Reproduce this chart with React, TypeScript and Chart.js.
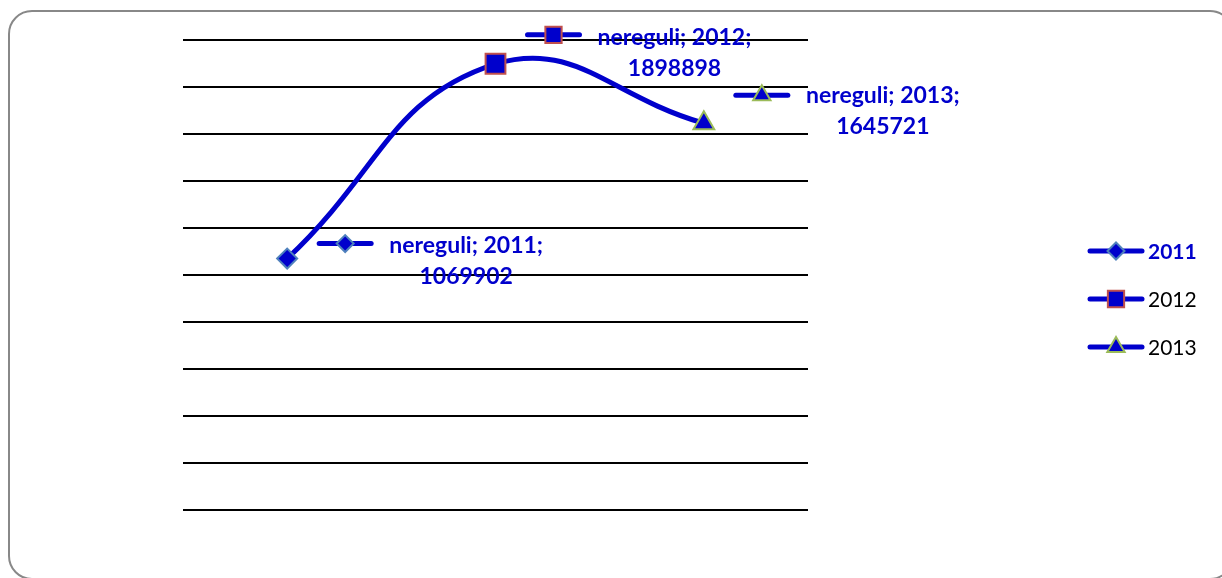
import React, { useEffect, useRef } from 'react';
import { Chart, registerables } from 'chart.js';
import { drawPoint } from 'chart.js/helpers';

Chart.register(...registerables);

// ---- data ----
const SERIES_NAME = 'nereguli';
const CATEGORIES = ['2011', '2012', '2013'];
const VALUES = [1069902, 1898898, 1645721];
const Y_MIN = 0;
const Y_MAX = 2000000;
const Y_STEP = 200000;

// ---- styles ----
const BLUE = '#0000CC';
const POINT_STYLES = ['rectRot', 'rect', 'triangle'];
const POINT_BORDERS = ['#4F81BD', '#C0504D', '#9BBB59'];
const POINT_RADII = [10, 14, 12];
const KEY_RADII = [8.5, 11.5, 10];
const FONT = 'Lato, "Open Sans", sans-serif';

// label layout offsets (relative to each point)
const KEY_DY = [-15, -29, -28];
const TEXT_DY = [-13, -26, -28];

function drawKey(ctx: CanvasRenderingContext2D, i: number, cx: number, cy: number) {
  ctx.save();
  ctx.strokeStyle = BLUE;
  ctx.lineWidth = 5;
  ctx.lineCap = 'round';
  ctx.beginPath();
  ctx.moveTo(cx - 26, cy);
  ctx.lineTo(cx + 26, cy);
  ctx.stroke();
  ctx.fillStyle = BLUE;
  ctx.strokeStyle = POINT_BORDERS[i];
  ctx.lineWidth = 2;
  drawPoint(ctx, { pointStyle: POINT_STYLES[i] as any, radius: KEY_RADII[i], rotation: 0, borderWidth: 2 } as any, cx, cy);
  ctx.restore();
}

const labelPlugin = {
  id: 'pointLabels',
  afterDatasetsDraw(chart: any) {
    const ctx: CanvasRenderingContext2D = chart.ctx;
    const meta = chart.getDatasetMeta(0);
    meta.data.forEach((pt: any, i: number) => {
      const x = pt.x;
      const y = pt.y;
      drawKey(ctx, i, x + 58, y + KEY_DY[i]);
      ctx.save();
      ctx.fillStyle = BLUE;
      ctx.font = `bold 23px ${FONT}`;
      ctx.textAlign = 'center';
      ctx.textBaseline = 'middle';
      const tx = x + 179;
      const ty = y + TEXT_DY[i];
      ctx.fillText(`${SERIES_NAME}; ${CATEGORIES[i]};`, tx, ty);
      ctx.fillText(String(VALUES[i]), tx, ty + 31);
      ctx.restore();
    });
  },
};

const legendPlugin = {
  id: 'sideLegend',
  afterDraw(chart: any) {
    const ctx: CanvasRenderingContext2D = chart.ctx;
    CATEGORIES.forEach((cat, i) => {
      const cy = 251 + i * 48;
      drawKey(ctx, i, 1116, cy);
      ctx.save();
      ctx.textAlign = 'left';
      ctx.textBaseline = 'middle';
      if (i === 0) {
        ctx.font = `bold 21px ${FONT}`;
        ctx.fillStyle = BLUE;
      } else {
        ctx.font = `21px ${FONT}`;
        ctx.fillStyle = '#000000';
      }
      ctx.fillText(cat, 1148, cy + 1);
      ctx.restore();
    });
  },
};

export default function App() {
  const canvasRef = useRef<HTMLCanvasElement | null>(null);

  useEffect(() => {
    if (!canvasRef.current) return;
    const chart = new Chart(canvasRef.current, {
      type: 'line',
      data: {
        labels: CATEGORIES,
        datasets: [
          {
            label: SERIES_NAME,
            data: VALUES,
            borderColor: BLUE,
            borderWidth: 5,
            tension: 0.45,
            fill: false,
            clip: false as any,
            pointStyle: POINT_STYLES as any,
            pointRadius: POINT_RADII,
            pointBackgroundColor: BLUE,
            pointBorderColor: POINT_BORDERS,
            pointBorderWidth: 2,
          },
        ],
      },
      options: {
        animation: false,
        responsive: false,
        maintainAspectRatio: false,
        layout: { padding: { left: 183, right: 414, top: 40, bottom: 68 } },
        plugins: {
          legend: { display: false },
          tooltip: { enabled: false },
          title: { display: false },
        },
        scales: {
          x: {
            display: false,
            offset: true,
          },
          y: {
            min: Y_MIN,
            max: Y_MAX,
            ticks: { display: false, stepSize: Y_STEP },
            grid: { color: '#000000', lineWidth: 2, drawTicks: false },
            border: { display: false },
          },
        },
      },
      plugins: [labelPlugin, legendPlugin],
    });
    return () => chart.destroy();
  }, []);

  return (
    <div style={{ position: 'absolute', left: 0, top: 0, width: 1222, height: 578, overflow: 'hidden', background: '#fff' }}>
      <div
        style={{
          position: 'absolute',
          left: 8,
          top: 10,
          width: 1226,
          height: 570,
          border: '2px solid #888888',
          borderRadius: 24,
          boxSizing: 'border-box',
        }}
      />
      <canvas ref={canvasRef} width={1222} height={578} style={{ position: 'absolute', left: 0, top: 0 }} />
    </div>
  );
}
